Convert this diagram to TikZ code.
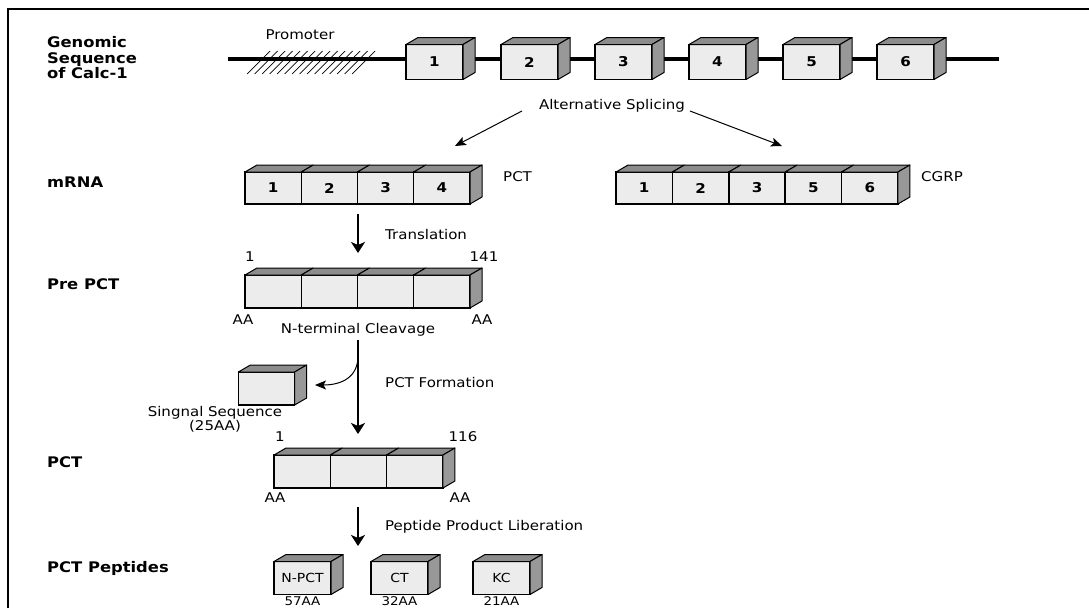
\documentclass[tikz,border=0pt]{standalone}
\usepackage{fontspec}
\setmainfont{DejaVu Sans}[FakeStretch=1.12]
\usetikzlibrary{arrows.meta,calc}
\definecolor{facegray}{RGB}{235,236,235}
\definecolor{topgray}{RGB}{140,140,140}
\definecolor{sidegray}{RGB}{152,152,152}
\tikzset{
  seg/.style={draw=black, line width=1.3pt, fill=facegray, outer sep=0pt, inner sep=0pt,
    minimum width=56.25pt, minimum height=33pt, font=\bfseries\fontsize{13.5}{13}\selectfont},
  gseg/.style={seg, minimum width=57pt, minimum height=35pt},
  pep/.style={seg, minimum width=57pt, minimum height=33pt, font=\fontsize{12.5}{12}\selectfont},
  depthline/.style={draw=black, line width=1pt, line join=round},
  rowlabel/.style={anchor=west, inner sep=0pt, font=\bfseries\fontsize{14.6}{15.5}\selectfont},
  txt/.style={inner sep=0pt, font=\fontsize{13.4}{14}\selectfont},
  bigarrow/.style={line width=2pt, -{Stealth[length=11pt,width=14pt,inset=3pt]}},
  thinarrow/.style={line width=1pt, -{Stealth[length=11pt,width=9pt,inset=2.5pt]}},
}
\newcommand{\ctop}[1]{\draw[depthline,fill=topgray] (#1.north west) -- ++(12,-7) -- ($(#1.north east)+(12,-7)$) -- (#1.north east) -- cycle;}
\newcommand{\cside}[1]{\draw[depthline,fill=sidegray] (#1.north east) -- ++(12,-7) -- ($(#1.south east)+(12,-7)$) -- (#1.south east) -- cycle;}
\begin{document}
\begin{tikzpicture}[x=1pt,y=-1pt]
\useasboundingbox (0,0) rectangle (1089,608);
\clip (0,0) rectangle (1089,608);
\fill[white] (0,0) rectangle (1089,608);
% frame
\draw[line width=2pt] (8,608) -- (8,9) -- (1089,9);

% row labels
\node[rowlabel, align=left] (lgen) at (47,58) {Genomic\\Sequence\\of Calc-1};
\node[rowlabel] (lmrna) at (47,182) {mRNA};
\node[rowlabel] (lpre) at (47,284) {Pre PCT};
\node[rowlabel] (lpct) at (47,462) {PCT};
\node[rowlabel] (lpep) at (47,568) {PCT Peptides};

% genomic sequence
\coordinate (dnaL) at (228,59);
\coordinate (dnaR) at (999,59);
\draw[line width=4pt] (dnaL) -- (dnaR);
\foreach \i in {0,...,14} \draw[line width=0.7pt] ({247+7.5*\i},74) -- ++(23,-23);
\node[txt] (prom) at (300,35) {Promoter};
\foreach \n/\x in {1/406,2/501,3/595,4/689,5/783,6/877} {
  \node[gseg] (g\n) at ({\x+28.5},62) {\n};
  \ctop{g\n} \cside{g\n}
}

% alternative splicing
\node[txt] (alt) at (612,106) {Alternative Splicing};
\coordinate (sL) at (522,111);
\coordinate (sR) at (690,111);

% PCT mRNA
\foreach \n/\i in {1/0,2/1,3/2,4/3} {
  \node[seg, minimum height=32pt] (m\n) at ({245+28.125+56.25*\i},188) {\n};
  \ctop{m\n}
}
\cside{m4}
\node[txt, anchor=west] (pctm) at (503,177) {PCT};

% CGRP mRNA
\foreach \n/\i in {1/0,2/1,3/2,5/3,6/4} {
  \node[seg, minimum height=32pt] (c\n) at ({616+28.2+56.4*\i},188) {\n};
  \ctop{c\n}
}
\cside{c6}
\node[txt, anchor=west] (cgrp) at (921,177) {CGRP};

\draw[thinarrow] (sL) -- (455,146);
\draw[thinarrow] (sR) -- (782,146);

% translation
\coordinate (t1) at (358,214);
\coordinate (t2) at (358,253);
\draw[bigarrow] (t1) -- (t2);
\node[txt, anchor=west] (trans) at (385,234) {Translation};

% Pre PCT
\foreach \i in {0,...,3} {
  \node[seg] (p\i) at ({245+28.125+56.25*\i},291.5) {};
  \ctop{p\i}
}
\cside{p3}
\node[txt] (p1n) at (250,257) {1};
\node[txt] (p141) at (484,257) {141};
\node[txt] (paal) at (243,320) {AA};
\node[txt] (paar) at (482,320) {AA};
\node[txt] (ncl) at (358,330) {N-terminal Cleavage};

% PCT formation
\coordinate (f1) at (358,340);
\coordinate (f2) at (358,434);
\draw[bigarrow] (f1) -- (f2);
\coordinate (cs) at (358,356);
\coordinate (ce) at (315,385);
\draw[thinarrow] (cs) .. controls (358,377) and (342,385) .. (ce);
\node[txt, anchor=west] (form) at (385,382) {PCT Formation};

% signal sequence
\node[seg] (sig) at (266.5,388.5) {};
\ctop{sig} \cside{sig}
\node[txt, align=center, font=\fontsize{13.4}{14}\selectfont] (sigl) at (215,419.5) {Singnal Sequence\\(25AA)};

% PCT
\foreach \i in {0,...,2} {
  \node[seg] (q\i) at ({274+28.17+56.33*\i},471.5) {};
  \ctop{q\i}
}
\cside{q2}
\node[txt] (q1n) at (280,437) {1};
\node[txt] (q116) at (463,437) {116};
\node[txt] (qaal) at (275,498) {AA};
\node[txt] (qaar) at (460,498) {AA};

% peptide liberation
\coordinate (l1) at (358,507);
\coordinate (l2) at (358,546);
\draw[bigarrow] (l1) -- (l2);
\node[txt, anchor=west] (lib) at (385,527) {Peptide Product Liberation};

% peptides
\node[pep] (npct) at (302.5,578) {N-PCT};
\ctop{npct} \cside{npct}
\node[pep] (ct) at (399.5,578) {CT};
\ctop{ct} \cside{ct}
\node[pep] (kc) at (501.5,578) {KC};
\ctop{kc} \cside{kc}
\node[txt, anchor=north, font=\fontsize{12}{12}\selectfont] (a57) at (npct.south) [yshift=-2pt] {57AA};
\node[txt, anchor=north, font=\fontsize{12}{12}\selectfont] (a32) at (ct.south) [yshift=-2pt] {32AA};
\node[txt, anchor=north, font=\fontsize{12}{12}\selectfont] (a21) at (kc.south) [yshift=-2pt] {21AA};
\end{tikzpicture}
\end{document}
